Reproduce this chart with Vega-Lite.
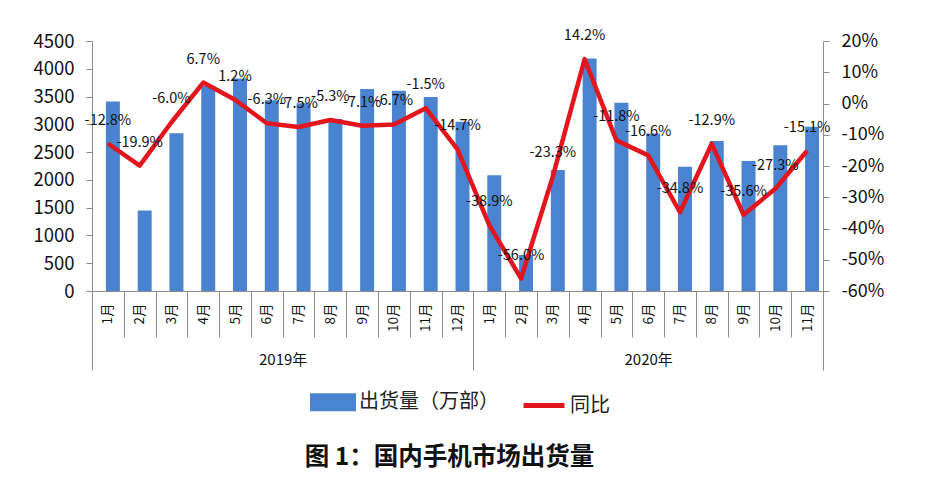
{
  "$schema": "https://vega.github.io/schema/vega-lite/v6.json",
  "width": 731,
  "height": 250,
  "autosize": {"type": "none"},
  "padding": {"left": 92, "top": 41, "right": 102, "bottom": 187},
  "background": "white",
  "config": {"view": {"stroke": null}, "font": "Noto Sans CJK SC"},
  "title": {
    "text": "图 1：国内手机市场出货量",
    "orient": "bottom",
    "anchor": "middle",
    "frame": "group",
    "offset": 27,
    "dx": -8,
    "fontSize": 24.5,
    "fontWeight": "bold",
    "font": "Noto Sans CJK SC",
    "color": "#111111"
  },
  "data": {
    "values": [
      {"ym": "2019-1", "ship": 3410, "yoy": -12.8},
      {"ym": "2019-2", "ship": 1450, "yoy": -19.9},
      {"ym": "2019-3", "ship": 2840, "yoy": -6.0},
      {"ym": "2019-4", "ship": 3690, "yoy": 6.7},
      {"ym": "2019-5", "ship": 3825, "yoy": 1.2},
      {"ym": "2019-6", "ship": 3435, "yoy": -6.3},
      {"ym": "2019-7", "ship": 3380, "yoy": -7.5},
      {"ym": "2019-8", "ship": 3095, "yoy": -5.3},
      {"ym": "2019-9", "ship": 3635, "yoy": -7.1},
      {"ym": "2019-10", "ship": 3605, "yoy": -6.7},
      {"ym": "2019-11", "ship": 3490, "yoy": -1.5},
      {"ym": "2019-12", "ship": 3045, "yoy": -14.7},
      {"ym": "2020-1", "ship": 2085, "yoy": -38.9},
      {"ym": "2020-2", "ship": 650, "yoy": -56.0},
      {"ym": "2020-3", "ship": 2178, "yoy": -23.3},
      {"ym": "2020-4", "ship": 4185, "yoy": 14.2},
      {"ym": "2020-5", "ship": 3388, "yoy": -11.8},
      {"ym": "2020-6", "ship": 2836, "yoy": -16.6},
      {"ym": "2020-7", "ship": 2236, "yoy": -34.8},
      {"ym": "2020-8", "ship": 2700, "yoy": -12.9},
      {"ym": "2020-9", "ship": 2340, "yoy": -35.6},
      {"ym": "2020-10", "ship": 2622, "yoy": -27.3},
      {"ym": "2020-11", "ship": 2955, "yoy": -15.1}
    ]
  },
  "transform": [
    {"window": [{"op": "row_number", "as": "n"}]},
    {"calculate": "replace(format(datum.yoy, '.1f'), '\u2212', '-') + '%'", "as": "label"}
  ],
  "resolve": {"scale": {"x": "independent"}},
  "layer": [
    {
      "resolve": {"scale": {"y": "independent"}},
      "encoding": {
        "x": {
          "field": "ym",
          "type": "nominal",
          "sort": null,
          "scale": {"paddingInner": 0, "paddingOuter": 0},
          "axis": {
            "title": null,
            "orient": "bottom",
            "labelAngle": 270,
            "tickBand": "extent",
            "tickSize": 46,
            "tickColor": "#8c8c8c",
            "domainColor": "#8c8c8c",
            "labelPadding": -34,
            "labelFontSize": 13.5,
            "labelColor": "#111111",
            "labelExpr": "isValid(datum.value) ? split(datum.value, '-')[1] + '月' : ''"
          }
        }
      },
      "layer": [
        {
          "mark": {"type": "bar", "width": {"band": 0.44}, "xOffset": 5},
          "encoding": {
            "y": {
              "field": "ship",
              "type": "quantitative",
              "scale": {"domain": [0, 4500], "nice": false},
              "axis": {
                "title": null,
                "orient": "left",
                "values": [0, 500, 1000, 1500, 2000, 2500, 3000, 3500, 4000, 4500],
                "format": "d",
                "grid": false,
                "tickSize": 6,
                "labelPadding": 12,
                "labelFontSize": 18.5,
                "labelColor": "#111111",
                "domainColor": "#8c8c8c",
                "tickColor": "#8c8c8c"
              }
            },
            "color": {
              "datum": "出货量（万部）",
              "scale": {"domain": ["出货量（万部）", "同比"], "range": ["#4a84d1", "#e3161e"]},
              "legend": {
                "orient": "none",
                "legendX": 218,
                "legendY": 338,
                "direction": "horizontal",
                "title": null,
                "padding": 0,
                "symbolSize": 1681,
                "labelFontSize": 20,
                "labelFont": "Noto Sans CJK SC",
                "labelColor": "#222222",
                "labelOffset": 3,
                "columnPadding": 14,
                "encode": {
                  "symbols": {
                    "update": {
                      "shape": {"signal": "datum.value === '同比' ? 'stroke' : 'M-1,-0.317H1V0.317H-1Z'"},
                      "fill": {"signal": "datum.value === '同比' ? 'transparent' : '#4a84d1'"},
                      "stroke": {"signal": "datum.value === '同比' ? '#e3161e' : 'transparent'"},
                      "strokeWidth": {"value": 5},
                      "opacity": {"value": 1}
                    }
                  }
                }
              }
            }
          }
        },
        {
          "mark": {"type": "line", "strokeWidth": 4.5, "strokeJoin": "round"},
          "encoding": {
            "y": {
              "field": "yoy",
              "type": "quantitative",
              "scale": {"domain": [-60, 20], "nice": false},
              "axis": {
                "title": null,
                "orient": "right",
                "values": [-60, -50, -40, -30, -20, -10, 0, 10, 20],
                "grid": false,
                "tickSize": 6,
                "labelPadding": 12,
                "labelFontSize": 18,
                "labelColor": "#111111",
                "domainColor": "#8c8c8c",
                "tickColor": "#8c8c8c",
                "labelExpr": "replace(datum.label, '\u2212', '-') + '%'"
              }
            },
            "color": {"datum": "同比"}
          }
        },
        {
          "mark": {"type": "text", "dy": -23, "fontSize": 14.5, "color": "#111111", "font": "Noto Sans CJK SC"},
          "encoding": {
            "y": {
              "field": "yoy",
              "type": "quantitative",
              "scale": {"domain": [-60, 20], "nice": false},
              "axis": null
            },
            "text": {"field": "label"}
          }
        }
      ]
    },
    {
      "mark": {"type": "point", "opacity": 0},
      "encoding": {
        "x": {
          "field": "n",
          "type": "quantitative",
          "scale": {"domain": [0, 23], "nice": false, "zero": false},
          "axis": {
            "title": null,
            "orient": "bottom",
            "values": [0, 6, 12, 17.5, 23],
            "domain": false,
            "grid": false,
            "labelExpr": "datum.value == 6 ? '2019年' : datum.value == 17.5 ? '2020年' : ''",
            "tickSize": 79,
            "tickColor": "#8c8c8c",
            "tickOpacity": {"condition": {"test": "datum.value == 6 || datum.value == 17.5", "value": 0}, "value": 1},
            "labelPadding": -18,
            "labelFontSize": 15,
            "labelColor": "#111111",
            "labelOverlap": false,
            "labelFlush": false,
            "labelBound": false
          }
        }
      }
    }
  ]
}
